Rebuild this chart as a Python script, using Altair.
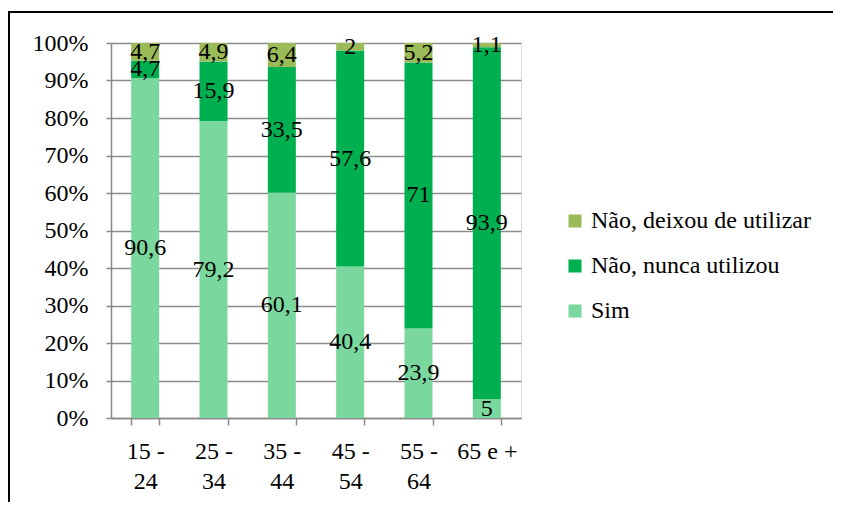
import altair as alt
import pandas as pd

categories = ["15 - 24", "25 - 34", "35 - 44", "45 - 54", "55 - 64", "65 e +"]
series = ["Sim", "Não, nunca utilizou", "Não, deixou de utilizar"]
sim = [90.6, 79.2, 60.1, 40.4, 23.9, 5]
nunca = [4.7, 15.9, 33.5, 57.6, 71, 93.9]
deixou = [4.7, 4.9, 6.4, 2, 5.2, 1.1]
y_ticks = [0, 0.1, 0.2, 0.3, 0.4, 0.5, 0.6, 0.7, 0.8, 0.9, 1.0]

rows = []
for i, c in enumerate(categories):
    for k, (s, vals) in enumerate(zip(series, [sim, nunca, deixou])):
        rows.append({"cat": c, "serie": s, "ord": k, "value": vals[i]})
df = pd.DataFrame(rows)

FONT = "'Liberation Serif', 'Times New Roman', Tinos, 'Nimbus Roman', 'DejaVu Serif', serif"
legend_order = ["Não, deixou de utilizar", "Não, nunca utilizou", "Sim"]
colors = ["#9bbb59", "#00b050", "#7ad89f"]

base = alt.Chart(df).transform_stack(
    stack="value", groupby=["cat"], sort=[alt.SortField("ord", "ascending")],
    as_=["y0", "y1"], offset="normalize"
).transform_calculate(
    mid="(datum.y0 + datum.y1) / 2",
    lab="replace(toString(datum.value), '.', ',')"
)

x_axis = alt.Axis(labelAngle=0, labelFont=FONT, labelFontSize=24, labelColor="black",
                  labelLineHeight=30, labelPadding=14, tickSize=7, tickColor="#888888",
                  domainColor="#888888", domainWidth=1.5, tickWidth=1.5, tickBand="extent",
                  labelBaseline="top", labelOverlap=False, labelLimit=0,
                  labelExpr="indexof(datum.label, ' - ') > 0 ? [substring(datum.label, 0, indexof(datum.label, ' - ') + 2), substring(datum.label, indexof(datum.label, ' - ') + 3)] : datum.label")
x_scale = alt.Scale(paddingInner=0.59, paddingOuter=0.295)
y_axis = alt.Axis(format="%", values=y_ticks, labelFont=FONT, labelFontSize=24,
                  labelColor="black", labelPadding=18, tickSize=5, tickColor="#888888",
                  tickWidth=1.5, domainColor="#888888", domainWidth=1.5,
                  gridColor="#8c8c8c", gridWidth=1.5, labelOverlap=False,
                  labelFlush=False, tickCount=11)
y_scale = alt.Scale(domain=[0, 1], nice=False)

bars = base.mark_bar().encode(
    x=alt.X("cat:N", sort=categories, title=None, scale=x_scale, axis=x_axis),
    y=alt.Y("y0:Q", title=None, scale=y_scale, axis=y_axis),
    y2="y1:Q",
    color=alt.Color("serie:N", scale=alt.Scale(domain=legend_order, range=colors),
                    legend=alt.Legend(title=None, orient="none", legendX=452, legendY=166,
                                      labelFont=FONT, labelFontSize=24, labelColor="black",
                                      symbolType="square", symbolSize=170, symbolStrokeWidth=0,
                                      rowPadding=21, labelOffset=4, labelLimit=0)),
)

labels = base.mark_text(font=FONT, fontSize=24, color="black", baseline="middle").encode(
    x=alt.X("cat:N", sort=categories, title=None, scale=x_scale, axis=x_axis),
    y=alt.Y("mid:Q", title=None, scale=y_scale, axis=y_axis),
    text="lab:N",
)

frame_df = pd.DataFrame({"a": [0]})
shadow = alt.Chart(frame_df).mark_rule(color="#bbbbbb", strokeWidth=5, opacity=0.6).encode(
    x=alt.value(-106), y=alt.value(-28), y2=alt.value(480))
left_line = alt.Chart(frame_df).mark_rule(color="black", strokeWidth=2).encode(
    x=alt.value(-102), y=alt.value(-32), y2=alt.value(480))
top_line = alt.Chart(frame_df).mark_rule(color="black", strokeWidth=2).encode(
    x=alt.value(-103), x2=alt.value(740), y=alt.value(-31))

chart = alt.layer(bars, labels, shadow, left_line, top_line).properties(
    width=410, height=375,
    autosize=alt.AutoSizeParams(type="none"),
    padding={"left": 103, "top": 35, "right": 312, "bottom": 84},
).configure_view(stroke=None).configure(background="white", font=FONT)

chart.save("out.html", embed_options={"renderer": "svg", "actions": False})
